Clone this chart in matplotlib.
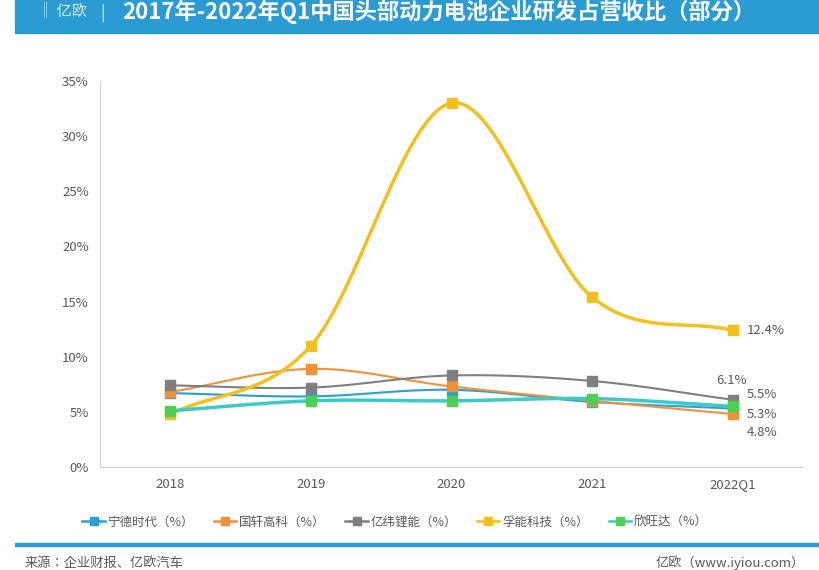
import matplotlib.pyplot as plt
import numpy as np
from matplotlib.patches import Rectangle

plt.rcParams['font.family'] = ['Noto Sans CJK JP', 'Noto Sans CJK SC', 'DejaVu Sans']

# 数据
years = ['2018', '2019', '2020', '2021', '2022Q1']
catl = [6.7, 6.4, 7.0, 5.9, 5.3]
gotion = [6.8, 8.9, 7.3, 6.0, 4.8]
eve = [7.4, 7.2, 8.3, 7.8, 6.1]
farasis = [4.8, 11.0, 33.0, 15.4, 12.4]
sunwoda = [5.1, 6.0, 6.0, 6.2, 5.5]

series = [
    ('宁德时代（%）', catl, '#2a9fd6', '#2a9fd6', 1.5),
    ('国轩高科（%）', gotion, '#f0913a', '#f0913a', 1.5),
    ('亿纬锂能（%）', eve, '#7f7f7f', '#7f7f7f', 1.5),
    ('孚能科技（%）', farasis, '#f2c01e', '#f2c01e', 2.5),
    ('欣旺达（%）', sunwoda, '#3ec9c9', '#4fcf50', 2.5),
]


def smooth(x, y, n=30):
    # Catmull-Rom 平滑曲线，模拟Excel平滑线
    x = np.asarray(x, float); y = np.asarray(y, float)
    px = np.concatenate([[2*x[0]-x[1]], x, [2*x[-1]-x[-2]]])
    py = np.concatenate([[2*y[0]-y[1]], y, [2*y[-1]-y[-2]]])
    xs, ys = [], []
    t = np.linspace(0, 1, n)
    for i in range(1, len(px)-2):
        for p, out in ((px, xs), (py, ys)):
            p0, p1, p2, p3 = p[i-1], p[i], p[i+1], p[i+2]
            out.extend(0.5*((2*p1) + (-p0+p2)*t + (2*p0-5*p1+4*p2-p3)*t**2 + (-p0+3*p1-3*p2+p3)*t**3))
    return np.array(xs), np.array(ys)


fig = plt.figure(figsize=(8.2, 5.7), dpi=100)
fig.patch.set_facecolor('white')

# 标题栏
fig.add_artist(Rectangle((15/820, 1-33/570), 805/820, 33/570, transform=fig.transFigure, color='#2a9bd3'))
fig.text(38/820, 1-12/570, '‖ 亿欧', color='#dbeef8', fontsize=11, va='center')
fig.text(100/820, 1-13/570, '|', color='#dbeef8', fontsize=12, va='center')
fig.text(122/820, 1-12/570, '2017年-2022年Q1中国头部动力电池企业研发占营收比（部分）',
         color='white', fontsize=16, fontweight='bold', va='center')

ax = fig.add_axes([100/820, 1-467/570, 703/820, 386/570])
x = np.arange(len(years))
for name, vals, lc, mc, lw in series:
    sx, sy = smooth(x, vals)
    ax.plot(sx, sy, color=lc, lw=lw)
    ax.plot(x, vals, 's', color=mc, ms=7)

ax.set_xlim(-0.5, 4.5)
ax.set_ylim(0, 35)
ax.set_xticks(x)
ax.set_xticklabels(years)
ax.set_yticks(range(0, 36, 5))
ax.set_yticklabels([f'{v}%' for v in range(0, 36, 5)])
ax.tick_params(length=0, colors='#595959', labelsize=9.5, pad=8)
for s in ['top', 'right']:
    ax.spines[s].set_visible(False)
ax.spines['left'].set_color('#d0d0d0')
ax.spines['bottom'].set_color('#d0d0d0')

# 数据标签
ax.text(4.1, 12.4, '12.4%', va='center', fontsize=9.5, color='#595959')
ax.text(3.88, 7.8, '6.1%', va='center', fontsize=9.5, color='#595959')
ax.text(4.1, 6.6, '5.5%', va='center', fontsize=9.5, color='#595959')
ax.text(4.1, 4.8, '5.3%', va='center', fontsize=9.5, color='#595959')
ax.text(4.1, 3.1, '4.8%', va='center', fontsize=9.5, color='#595959')

handles = [plt.Line2D([], [], color=lc, marker='s', mfc=mc, mec=mc, ms=6, lw=1.8)
           for _, _, lc, mc, _ in series]
fig.legend(handles, [s[0] for s in series], loc='center', bbox_to_anchor=(395/820, 1-522/570),
           ncol=5, frameon=False, fontsize=9, handlelength=1.8, columnspacing=1.6,
           handletextpad=0.2, labelcolor='#595959')

fig.add_artist(Rectangle((15/820, 1-546/570), 805/820, 3/570, transform=fig.transFigure, color='#2a9bd3'))
fig.text(25/820, 1-563/570, '来源：企业财报、亿欧汽车', fontsize=9.5, color='#595959', va='center')
fig.text(805/820, 1-563/570, '亿欧（www.iyiou.com）', fontsize=9.5, color='#595959', va='center', ha='right')

fig.savefig('out.png', dpi=100)
